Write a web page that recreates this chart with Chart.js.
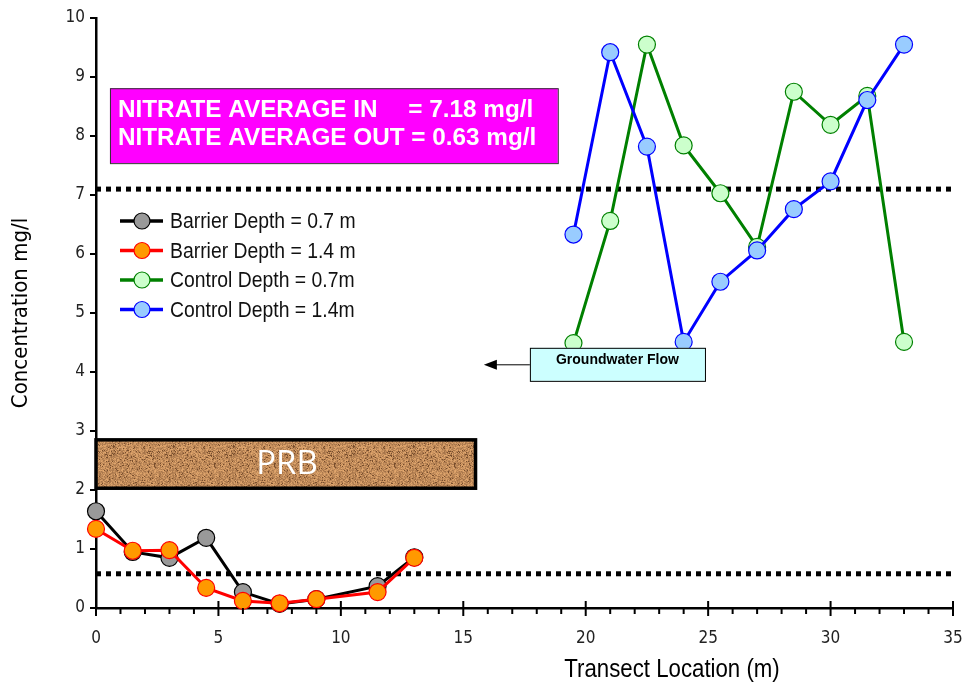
<!DOCTYPE html>
<html>
<head>
<meta charset="utf-8">
<script src="https://cdn.jsdelivr.net/npm/chart.js@4.4.1/dist/chart.umd.min.js"></script>
<style>
  html, body { margin: 0; padding: 0; background: #fff; }
</style>
</head>
<body>
<canvas id="chart" width="965" height="686"></canvas>
<script>
// Nitrate concentrations along the transect
const barrierX = [0, 1.5, 3, 4.5, 6, 7.5, 9, 11.5, 13];
const barrier07 = [1.64, 0.95, 0.85, 1.19, 0.27, 0.07, 0.15, 0.37, 0.86];
const barrier14 = [1.34, 0.97, 0.98, 0.34, 0.12, 0.08, 0.15, 0.27, 0.85];
const controlX = [19.5, 21, 22.5, 24, 25.5, 27, 28.5, 30, 31.5, 33];
const control07 = [4.49, 6.56, 9.55, 7.84, 7.03, 6.12, 8.75, 8.19, 8.68, 4.51];
const control14 = [6.33, 9.42, 7.82, 4.51, 5.53, 6.06, 6.76, 7.23, 8.61, 9.55];
const seriesNames = ['Barrier Depth = 0.7 m', 'Barrier Depth = 1.4 m', 'Control Depth = 0.7m', 'Control Depth = 1.4m'];
const avgLevels = [7.1, 0.58]; // dotted reference lines (in / out averages)
const xRange = [0, 35];
const yRange = [0, 10];

const NARROW = "'Liberation Sans Narrow', 'DejaVu Sans Condensed', 'Arial Narrow', sans-serif";

const toPoints = (xs, ys) => xs.map((x, i) => ({ x: x, y: ys[i] }));

function series(label, xs, ys, line, fill, order) {
  return {
    label: label,
    data: toPoints(xs, ys),
    showLine: true,
    clip: false,
    borderColor: line,
    backgroundColor: fill,
    borderWidth: 3,
    pointRadius: 8.5,
    pointBorderWidth: 1.2,
    pointBorderColor: line,
    pointBackgroundColor: fill,
    order: order
  };
}

function refLine(level) {
  return {
    label: 'ref',
    data: [{ x: xRange[0], y: level }, { x: xRange[1], y: level }],
    showLine: true,
    borderColor: '#000',
    borderWidth: 5,
    borderDash: [5, 5],
    pointRadius: 0,
    order: 10
  };
}

// narrow-looking text: a regular sans squeezed sideways
function narrowText(ctx, text, x, y, size, align, sx) {
  ctx.save();
  ctx.font = size + "px 'Liberation Sans', Arial, sans-serif";
  const w = ctx.measureText(text).width * sx;
  let left = x;
  if (align === 'center') left = x - w / 2;
  ctx.translate(left, y);
  ctx.scale(sx, 1);
  ctx.textAlign = 'left';
  ctx.fillText(text, 0, 0);
  ctx.restore();
}

// sandy texture for the PRB box (deterministic hash, not data)
function sandPattern(ctx) {
  const c = document.createElement('canvas');
  c.width = 60; c.height = 60;
  const g = c.getContext('2d');
  const img = g.createImageData(60, 60);
  for (let i = 0; i < 3600; i++) {
    const h = Math.abs(Math.sin(i * 12.9898 + 78.233) * 43758.5453) % 1;
    let r = 196, gg = 142, b = 92;
    const k = (h - 0.5) * 70;
    r += k; gg += k * 0.85; b += k * 0.6;
    if (h > 0.93) { r = 120; gg = 78; b = 45; }
    img.data[i * 4] = r; img.data[i * 4 + 1] = gg; img.data[i * 4 + 2] = b; img.data[i * 4 + 3] = 255;
  }
  g.putImageData(img, 0, 0);
  return ctx.createPattern(c, 'repeat');
}

const annotations = {
  id: 'annotations',
  beforeDatasetsDraw(chart) {
    const { ctx, scales: { x, y } } = chart;
    ctx.save();
    // magenta averages box
    let l = x.getPixelForValue(0.57), r = x.getPixelForValue(18.86);
    let t = y.getPixelForValue(8.81), b = y.getPixelForValue(7.54);
    ctx.fillStyle = '#ff00ff';
    ctx.fillRect(l, t, r - l, b - t);
    ctx.strokeStyle = '#333'; ctx.lineWidth = 1;
    ctx.strokeRect(l + 0.5, t + 0.5, r - l, b - t);
    ctx.fillStyle = '#fff';
    const line2a = 'NITRATE AVERAGE OUT ';
    const line2 = line2a + '= 0.63 mg/l';
    ctx.font = "bold 22px 'Liberation Sans', Arial, sans-serif";
    const fs = 22 * 419 / ctx.measureText(line2).width;
    ctx.font = "bold " + fs.toFixed(1) + "px 'Liberation Sans', Arial, sans-serif";
    ctx.textBaseline = 'alphabetic';
    const eqX = l + 8 + ctx.measureText(line2a).width;
    ctx.fillText('NITRATE AVERAGE IN', l + 8, t + 29);
    ctx.fillText('= 7.18 mg/l', eqX - 3, t + 29);
    ctx.fillText(line2, l + 8, t + 57);

    // PRB box
    l = x.getPixelForValue(0); r = x.getPixelForValue(15.5);
    t = y.getPixelForValue(2.85); b = y.getPixelForValue(2.03);
    ctx.fillStyle = sandPattern(ctx);
    ctx.fillRect(l, t, r - l, b - t);
    ctx.strokeStyle = '#000'; ctx.lineWidth = 3.5;
    ctx.strokeRect(l, t, r - l, b - t);
    ctx.fillStyle = '#fff';
    ctx.font = "33px 'Open Sans', 'Noto Sans', sans-serif";
    ctx.textAlign = 'center'; ctx.textBaseline = 'middle';
    ctx.fillText('PRB', x.getPixelForValue(7.8), (t + b) / 2 + 1);
    ctx.restore();
  },
  afterDatasetsDraw(chart) {
    const { ctx, scales: { x, y } } = chart;
    ctx.save();
    // groundwater flow box + arrow
    const l = x.getPixelForValue(17.72), r = x.getPixelForValue(24.87);
    const t = y.getPixelForValue(4.41), b = y.getPixelForValue(3.85);
    ctx.fillStyle = '#ccffff';
    ctx.fillRect(l, t, r - l, b - t);
    ctx.strokeStyle = '#000'; ctx.lineWidth = 1;
    ctx.strokeRect(l + 0.5, t + 0.5, r - l, b - t);
    ctx.fillStyle = '#000';
    ctx.font = "bold 14px 'Liberation Sans', Arial, sans-serif";
    ctx.textAlign = 'center'; ctx.textBaseline = 'middle';
    ctx.fillText('Groundwater Flow', (l + r) / 2, t + 12);
    const ay = t + 17, tip = x.getPixelForValue(15.84);
    ctx.beginPath(); ctx.moveTo(l, ay); ctx.lineTo(tip + 10, ay); ctx.stroke();
    ctx.beginPath(); ctx.moveTo(tip, ay); ctx.lineTo(tip + 13, ay - 5); ctx.lineTo(tip + 13, ay + 5); ctx.closePath(); ctx.fill();

    // legend
    const items = chart.data.datasets.filter(d => d.label !== 'ref');
    ctx.textBaseline = 'middle';
    items.forEach((d, i) => {
      const cy = 221 + i * 29.5;
      ctx.strokeStyle = d.borderColor; ctx.lineWidth = 3.5;
      ctx.beginPath(); ctx.moveTo(120, cy); ctx.lineTo(163, cy); ctx.stroke();
      ctx.beginPath(); ctx.arc(142, cy, 8, 0, Math.PI * 2);
      ctx.fillStyle = d.pointBackgroundColor; ctx.fill();
      ctx.lineWidth = 1.2; ctx.stroke();
      ctx.fillStyle = '#111';
      narrowText(ctx, d.label, 170, cy + 1, 22, 'left', 0.88);
    });

    // x axis title (set off to the right as in the original)
    ctx.fillStyle = '#000';
    ctx.textBaseline = 'alphabetic';
    narrowText(ctx, 'Transect Location (m)', 672, 677, 25, 'center', 0.89);
    ctx.restore();
  },
  afterDraw(chart) {
    const { ctx, scales: { x, y } } = chart;
    ctx.save();
    ctx.strokeStyle = '#000'; ctx.lineWidth = 2;
    const yb = y.getPixelForValue(0);
    for (let v = xRange[0]; v <= xRange[1]; v++) {
      const px = x.getPixelForValue(v);
      const major = v % 5 === 0;
      ctx.beginPath();
      ctx.moveTo(px, major ? yb - 7 : yb);
      ctx.lineTo(px, major ? yb + 8 : yb + 6);
      ctx.stroke();
    }
    const xl = x.getPixelForValue(0);
    for (let v = yRange[0]; v <= yRange[1]; v++) {
      const py = y.getPixelForValue(v);
      ctx.beginPath(); ctx.moveTo(xl - 6, py); ctx.lineTo(xl + 1, py); ctx.stroke();
    }
    ctx.restore();
  }
};

new Chart(document.getElementById('chart'), {
  type: 'scatter',
  data: {
    datasets: [
      series(seriesNames[0], barrierX, barrier07, '#000000', '#999999', 2),
      series(seriesNames[1], barrierX, barrier14, '#ff0000', '#ff9900', 1),
      series(seriesNames[2], controlX, control07, '#008000', '#ccffcc', 4),
      series(seriesNames[3], controlX, control14, '#0000ff', '#99ccff', 3),
      refLine(avgLevels[0]),
      refLine(avgLevels[1])
    ]
  },
  options: {
    responsive: false,
    animation: false,
    devicePixelRatio: 1,
    layout: { padding: { left: 0, top: 18, right: 12, bottom: 0 } },
    plugins: { legend: { display: false }, tooltip: { enabled: false } },
    scales: {
      x: {
        type: 'linear',
        min: xRange[0], max: xRange[1],
        afterFit(s) { s.height = 78; s.paddingLeft = 0; s.paddingRight = 0; },
        grid: { display: false, drawTicks: false },
        border: { color: '#000', width: 2.5 },
        ticks: { stepSize: 5, padding: 20, color: '#222', font: { family: NARROW, size: 17 } }
      },
      y: {
        min: yRange[0], max: yRange[1],
        afterFit(s) { s.width = 96; s.paddingTop = 0; s.paddingBottom = 0; },
        grid: { display: false, drawTicks: false },
        border: { color: '#000', width: 2.5 },
        ticks: { stepSize: 1, padding: 11, color: '#222', font: { family: NARROW, size: 17 } },
        title: { display: true, text: 'Concentration mg/l', color: '#000', padding: { top: 8, bottom: 0 }, font: { family: NARROW, size: 22 } }
      }
    }
  },
  plugins: [annotations]
});
</script>
</body>
</html>
